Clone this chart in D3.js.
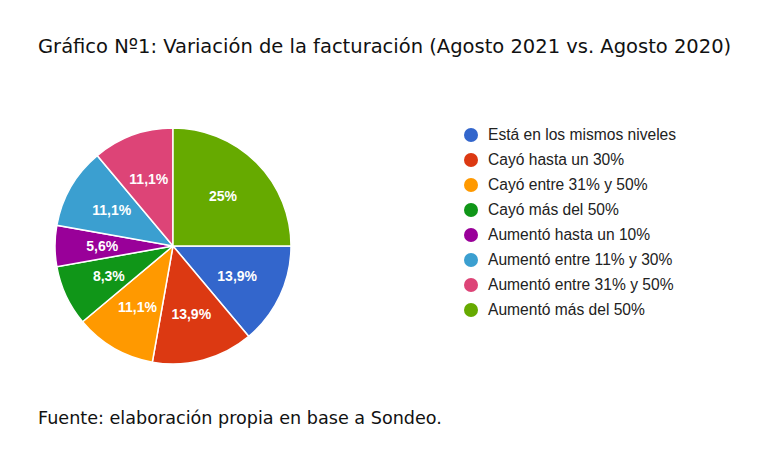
<!DOCTYPE html>
<html><head><meta charset="utf-8">
<script src="https://cdn.jsdelivr.net/npm/d3@7"></script>
<style>body{margin:0;background:#fff}</style></head>
<body><svg id="c" width="770" height="455"></svg>
<script>
const categories=["Está en los mismos niveles","Cayó hasta un 30%","Cayó entre 31% y 50%","Cayó más del 50%","Aumentó hasta un 10%","Aumentó entre 11% y 30%","Aumentó entre 31% y 50%","Aumentó más del 50%"];
const values=[13.9,13.9,11.1,8.3,5.6,11.1,11.1,25];
const labels=["13,9%","13,9%","11,1%","8,3%","5,6%","11,1%","11,1%","25%"];
const colors=["#3366cc","#dc3912","#ff9900","#109618","#990099","#3b9fd0","#dd4477","#66aa00"];
const svg=d3.select("#c");
svg.append("text").attr("x",38).attr("y",53).attr("font-family","DejaVu Sans").attr("font-size",19.5).attr("fill","#111").text("Gráfico Nº1: Variación de la facturación (Agosto 2021 vs. Agosto 2020)");
svg.append("text").attr("x",38).attr("y",424).attr("font-family","DejaVu Sans").attr("font-size",17.6).attr("fill","#111").text("Fuente: elaboración propia en base a Sondeo.");
const cx=173,cy=246,r=118;
const pie=d3.pie().sort(null).startAngle(Math.PI/2).endAngle(Math.PI/2+2*Math.PI);
const arcs=pie(values);
const arc=d3.arc().innerRadius(0).outerRadius(r);
const lab=d3.arc().innerRadius(r*0.6).outerRadius(r*0.6);
const g=svg.append("g").attr("transform",`translate(${cx},${cy})`);
g.selectAll("path").data(arcs).join("path").attr("d",arc).attr("fill",(d,i)=>colors[i]).attr("stroke","#fff").attr("stroke-width",1.5);
g.selectAll("text").data(arcs).join("text").attr("transform",d=>`translate(${lab.centroid(d)})`)
 .attr("text-anchor","middle").attr("dy","0.35em").attr("font-family","Liberation Sans, Arial").attr("font-size",14).attr("font-weight","bold").attr("fill","#fff").text((d,i)=>labels[i]);
const lg=svg.append("g");
categories.forEach((c,i)=>{
 const y=d3.scaleLinear().domain([0,1]).range([135,160])(i);
 lg.append("circle").attr("cx",471).attr("cy",y).attr("r",7).attr("fill",colors[i]);
 lg.append("text").attr("x",488).attr("y",y).attr("dy","0.35em").attr("font-family","Liberation Sans, Arial").attr("font-size",15.6).attr("fill","#222").text(c);
});
</script></body></html>
